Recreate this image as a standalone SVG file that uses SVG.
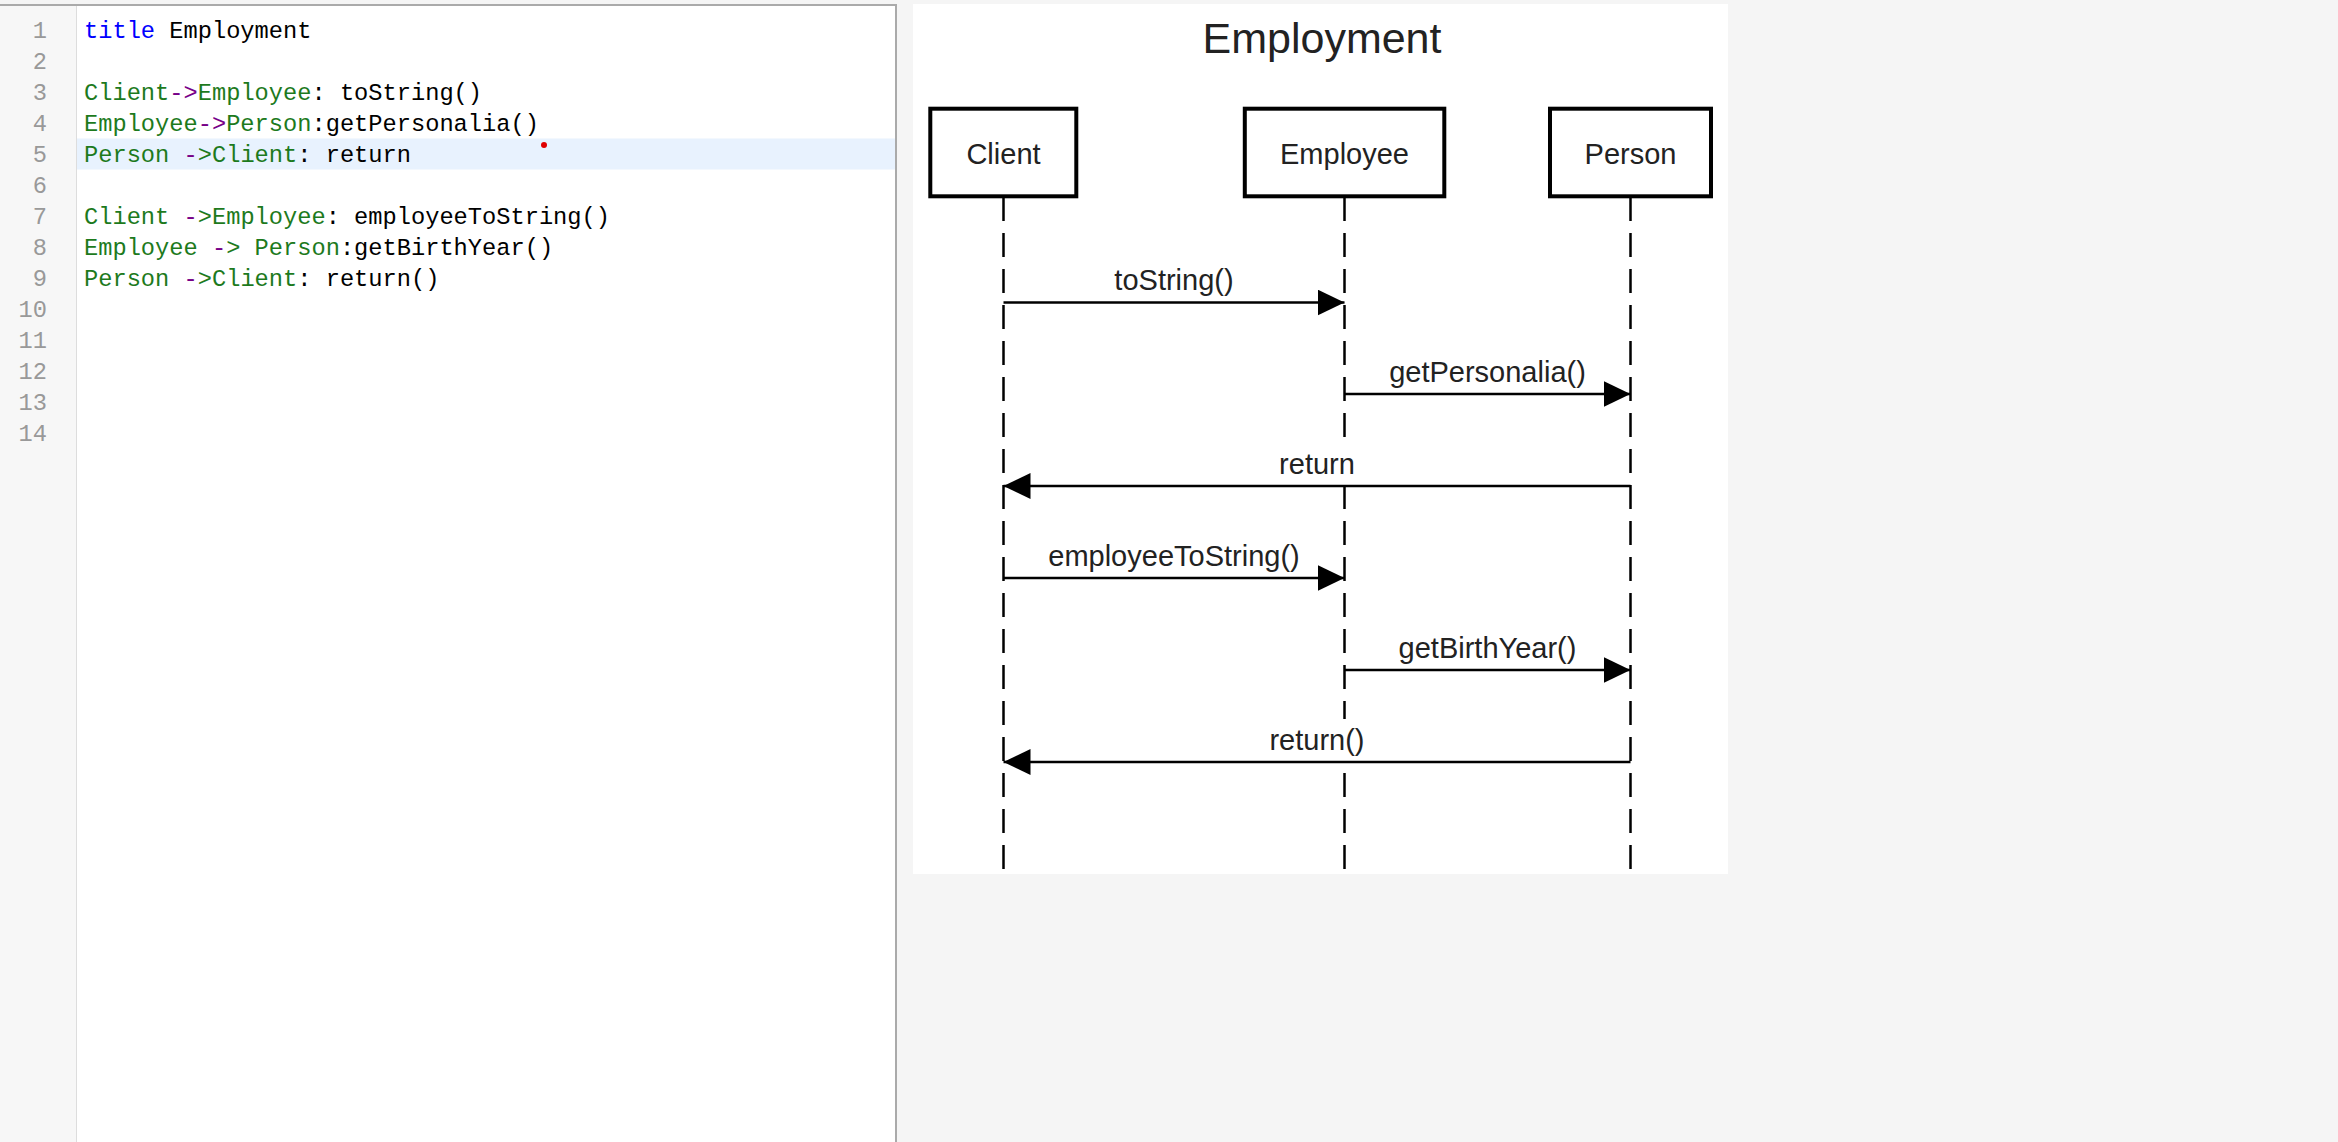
<svg xmlns="http://www.w3.org/2000/svg" width="2338" height="1142" viewBox="0 0 2338 1142">
<style>
.code{font-family:"Liberation Mono","DejaVu Sans Mono",monospace;font-size:23.7px;white-space:pre;fill:#000}
.ln{font-family:"Liberation Mono","DejaVu Sans Mono",monospace;font-size:23.7px;fill:#999;text-anchor:end}
.g{fill:#1d7a1d}
.p{fill:#770088}
.kw{fill:#0000ff}
.title{font-family:"Liberation Sans",Arial,sans-serif;font-size:43px;fill:#222;text-anchor:middle}
.lbl{font-family:"Liberation Sans",Arial,sans-serif;font-size:29px;fill:#222;text-anchor:middle}
.bg{fill:#fff}
.box{fill:#fff;stroke:#000;stroke-width:4}
.life{stroke:#000;stroke-width:2.5;stroke-dasharray:24 12;fill:none}
.msg{stroke:#000;stroke-width:2.5;fill:none;marker-end:url(#arr)}
</style>
<defs>
<marker id="arr" markerUnits="userSpaceOnUse" viewBox="0 0 27 26" markerWidth="27" markerHeight="26" refX="27" refY="13" orient="auto">
<path d="M0,0 L27,13 L0,26 Z" fill="#000"/>
</marker>
</defs>
<rect x="0" y="0" width="2338" height="1142" fill="#f5f5f5"/>
<g id="editor">
<rect x="0" y="5" width="76" height="1137" fill="#f7f7f7"/>
<rect x="76" y="5" width="820" height="1137" fill="#fff"/>
<line x1="76.5" y1="5" x2="76.5" y2="1142" stroke="#ddd" stroke-width="1"/>
<line x1="0" y1="5" x2="897" y2="5" stroke="#aaa" stroke-width="2"/>
<line x1="896" y1="5" x2="896" y2="1142" stroke="#aaa" stroke-width="2"/>
<rect x="77" y="138.5" width="818" height="31" fill="#e8f2fe"/>
<g>
<text class="ln" x="47" y="37.7">1</text>
<text class="ln" x="47" y="68.7">2</text>
<text class="ln" x="47" y="99.7">3</text>
<text class="ln" x="47" y="130.7">4</text>
<text class="ln" x="47" y="161.7">5</text>
<text class="ln" x="47" y="192.7">6</text>
<text class="ln" x="47" y="223.7">7</text>
<text class="ln" x="47" y="254.7">8</text>
<text class="ln" x="47" y="285.7">9</text>
<text class="ln" x="47" y="316.7">10</text>
<text class="ln" x="47" y="347.7">11</text>
<text class="ln" x="47" y="378.7">12</text>
<text class="ln" x="47" y="409.7">13</text>
<text class="ln" x="47" y="440.7">14</text>
</g>
<text class="code" x="84" y="37.7"><tspan class="kw">title</tspan> Employment</text>
<text class="code" x="84" y="99.7"><tspan class="g">Client</tspan><tspan class="p">-&gt;</tspan><tspan class="g">Employee</tspan>: toString()</text>
<text class="code" x="84" y="130.7"><tspan class="g">Employee</tspan><tspan class="p">-&gt;</tspan><tspan class="g">Person</tspan>:getPersonalia()</text>
<text class="code" x="84" y="161.7"><tspan class="g">Person</tspan><tspan class="p"> -</tspan><tspan class="g">&gt;Client</tspan>: return</text>
<text class="code" x="84" y="223.7"><tspan class="g">Client</tspan><tspan class="p"> -</tspan><tspan class="g">&gt;Employee</tspan>: employeeToString()</text>
<text class="code" x="84" y="254.7"><tspan class="g">Employee</tspan><tspan class="p"> -</tspan><tspan class="g">&gt; Person</tspan>:getBirthYear()</text>
<text class="code" x="84" y="285.7"><tspan class="g">Person</tspan><tspan class="p"> -</tspan><tspan class="g">&gt;Client</tspan>: return()</text>
<circle cx="544" cy="145" r="3" fill="#e00000"/>
</g>
<rect x="913" y="4" width="815" height="870" fill="#fff"/>
<text class="title" x="1322" y="53">Employment</text>
<g id="node-client">
<line class="life" x1="1003.5" y1="197" x2="1003.5" y2="870"/>
<rect class="box" x="930.3" y="108.7" width="146" height="87.6"/>
<text class="lbl" x="1003.5" y="163.5">Client</text>
</g>
<g id="node-employee">
<line class="life" x1="1344.5" y1="197" x2="1344.5" y2="870"/>
<rect class="box" x="1244.8" y="108.7" width="199.5" height="87.6"/>
<text class="lbl" x="1344.5" y="163.5">Employee</text>
</g>
<g id="node-person">
<line class="life" x1="1630.5" y1="197" x2="1630.5" y2="870"/>
<rect class="box" x="1550" y="108.7" width="161" height="87.6"/>
<text class="lbl" x="1630.5" y="163.5">Person</text>
</g>
<g id="connectors">
<rect class="bg" x="1110" y="260" width="128" height="41"/>
<line class="msg" x1="1003.5" y1="302.5" x2="1344.5" y2="302.5"/>
<text class="lbl" x="1174" y="289.5">toString()</text>
<rect class="bg" x="1385" y="352" width="205" height="41"/>
<line class="msg" x1="1344.5" y1="394" x2="1630.5" y2="394"/>
<text class="lbl" x="1487.5" y="381.5">getPersonalia()</text>
<rect class="bg" x="1274" y="442" width="86" height="43"/>
<line class="msg" x1="1630.5" y1="486" x2="1003.5" y2="486"/>
<text class="lbl" x="1317" y="473.5">return</text>
<rect class="bg" x="1044" y="536" width="260" height="41"/>
<line class="msg" x1="1003.5" y1="578" x2="1344.5" y2="578"/>
<text class="lbl" x="1174" y="565.5">employeeToString()</text>
<rect class="bg" x="1394" y="628" width="187" height="41"/>
<line class="msg" x1="1344.5" y1="670" x2="1630.5" y2="670"/>
<text class="lbl" x="1487.5" y="657.5">getBirthYear()</text>
<rect class="bg" x="1265" y="719" width="105" height="42"/>
<line class="msg" x1="1630.5" y1="762" x2="1003.5" y2="762"/>
<text class="lbl" x="1317" y="749.5">return()</text>
</g>
</svg>
